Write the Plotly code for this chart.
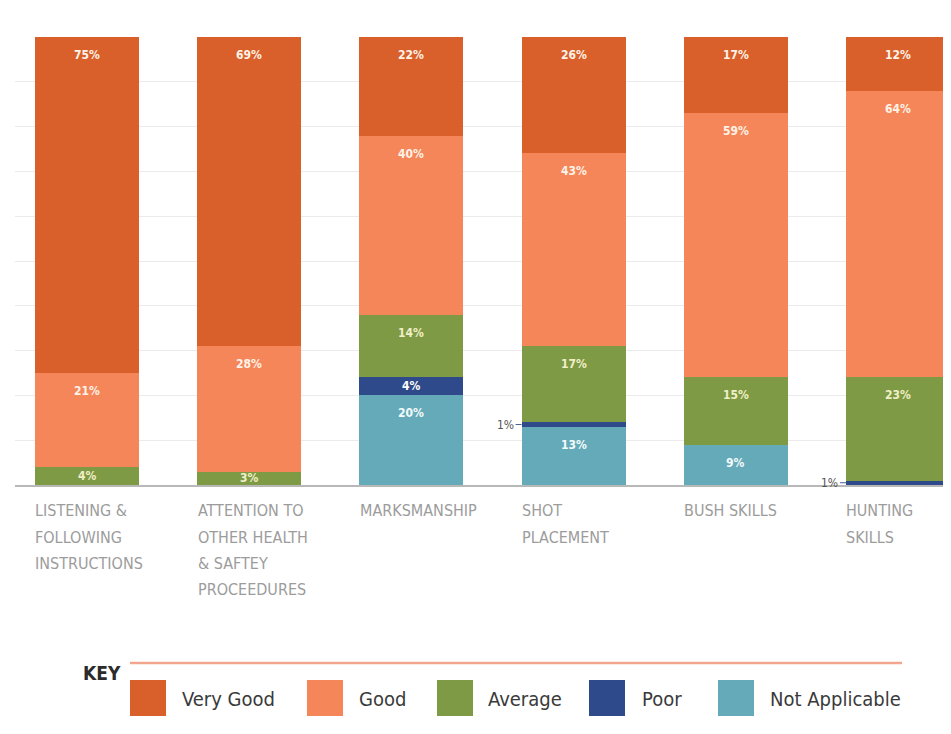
import plotly.graph_objects as go

# ---------------- data ----------------
categories = ["Listening & Following Instructions",
              "Attention to Other Health & Saftey Proceedures",
              "Marksmanship", "Shot Placement", "Bush Skills", "Hunting Skills"]
tick_labels = [["LISTENING &", "FOLLOWING", "INSTRUCTIONS"],
               ["ATTENTION TO", "OTHER HEALTH", "& SAFTEY", "PROCEEDURES"],
               ["MARKSMANSHIP"], ["SHOT", "PLACEMENT"], ["BUSH SKILLS"],
               ["HUNTING", "SKILLS"]]
series_names = ["Very Good", "Good", "Average", "Poor", "Not Applicable"]
very_good = [75, 69, 22, 26, 17, 12]
good = [21, 28, 40, 43, 59, 64]
average = [4, 3, 14, 17, 15, 23]
poor = [0, 0, 4, 1, 0, 1]
not_applicable = [0, 0, 20, 13, 9, 0]

# ---------------- style ----------------
colors = {"Very Good": "#d9602b", "Good": "#f5865a", "Average": "#7e9a44",
          "Poor": "#2f4a8a", "Not Applicable": "#65aab8"}
label_colors = {"Very Good": "#fff3e8", "Good": "#fff3e8", "Average": "#f1efc8",
                "Poor": "#ffffff", "Not Applicable": "#f4fbfc"}
FONT = "DejaVu Sans Condensed, Liberation Sans Narrow, sans-serif"
BAR_W = 0.641
OFF = 8                      # page body margin
W, H = 951, 734 - OFF
ML, MR, MT = 15 - OFF, OFF, 37 - OFF
PLOT_BOTTOM = 485 - OFF
MB = H - PLOT_BOTTOM
PW, PH = W - ML - MR, PLOT_BOTTOM - MT
X_RANGE = [-0.444, 5.327]
PX_PER_UNIT = PH / 100.0


def px_x(p):  # screen px -> paper
    return (p - OFF - ML) / PW


def px_y(p):
    return (PLOT_BOTTOM - (p - OFF)) / PH


x = list(range(len(categories)))
stack_order = [("Not Applicable", not_applicable), ("Poor", poor),
               ("Average", average), ("Good", good), ("Very Good", very_good)]

fig = go.Figure()
for name, vals in stack_order:
    fig.add_trace(go.Bar(
        x=x, y=vals, name=name, width=BAR_W,
        marker=dict(color=colors[name], line=dict(width=0)),
        hovertext=categories, showlegend=False, cliponaxis=True,
    ))

annotations = []
# segment value labels
cum = [0] * len(categories)
for name, vals in stack_order:
    for i, v in enumerate(vals):
        top = cum[i] + v
        if v >= 3:
            shift = -min(18, v * PX_PER_UNIT / 2)
            annotations.append(dict(
                x=x[i], y=top, xref="x", yref="y", text=f"<b>{v}%</b>",
                showarrow=False, yshift=shift, yanchor="middle",
                font=dict(family=FONT, size=12, color=label_colors[name]),
            ))
        elif v > 0:
            annotations.append(dict(
                x=x[i] - BAR_W / 2, y=cum[i] + v / 2, xref="x", yref="y",
                text=f"{v}%", showarrow=True, arrowhead=0, arrowwidth=1,
                arrowcolor="#4a5f95", ax=-16, ay=0, standoff=0,
                font=dict(family=FONT, size=12, color="#555555"),
            ))
        cum[i] = top

# category labels (left aligned under each bar, one annotation per line)
for i, lines in enumerate(tick_labels):
    for k, line in enumerate(lines):
        annotations.append(dict(
            x=x[i] - BAR_W / 2 - 0.01, y=px_y(511 + 26 * k), xref="x", yref="paper",
            text=line, showarrow=False, xanchor="left", yanchor="middle",
            font=dict(family=FONT, size=16, color="#9c9c9c"),
        ))

# key / legend
shapes = [dict(type="line", xref="paper", yref="paper",
               x0=px_x(130), x1=px_x(902), y0=px_y(663), y1=px_y(663),
               line=dict(color="#f2a68d", width=2.5))]
annotations.append(dict(
    x=px_x(81), y=px_y(673), xref="paper", yref="paper", text="<b>KEY</b>",
    showarrow=False, xanchor="left", yanchor="middle",
    font=dict(family=FONT, size=19, color="#2b2b2b")))
swatch_left = [130, 307, 437, 589, 718]
text_left = [180, 357, 486, 640, 768]
for name, sl, tl in zip(series_names, swatch_left, text_left):
    shapes.append(dict(type="rect", xref="paper", yref="paper",
                       x0=px_x(sl), x1=px_x(sl + 36), y0=px_y(716), y1=px_y(680),
                       fillcolor=colors[name], line=dict(width=0)))
    annotations.append(dict(
        x=px_x(tl), y=px_y(699), xref="paper", yref="paper", text=name,
        showarrow=False, xanchor="left", yanchor="middle",
        font=dict(family=FONT, size=20, color="#3a3a3a")))

fig.update_layout(
    barmode="stack", width=W, height=H,
    margin=dict(l=ML, r=MR, t=MT, b=MB),
    plot_bgcolor="white", paper_bgcolor="white",
    showlegend=False, annotations=annotations, shapes=shapes,
    xaxis=dict(range=X_RANGE, showticklabels=False, showgrid=False,
               zeroline=False, showline=True, linecolor="#b8b8b8", linewidth=2,
               ticks=""),
    yaxis=dict(range=[0, 100], tickvals=list(range(10, 101, 10)),
               showticklabels=False, gridcolor="#ebebeb", gridwidth=1,
               zeroline=False, showline=False, ticks=""),
)

fig.write_html("out.html")
